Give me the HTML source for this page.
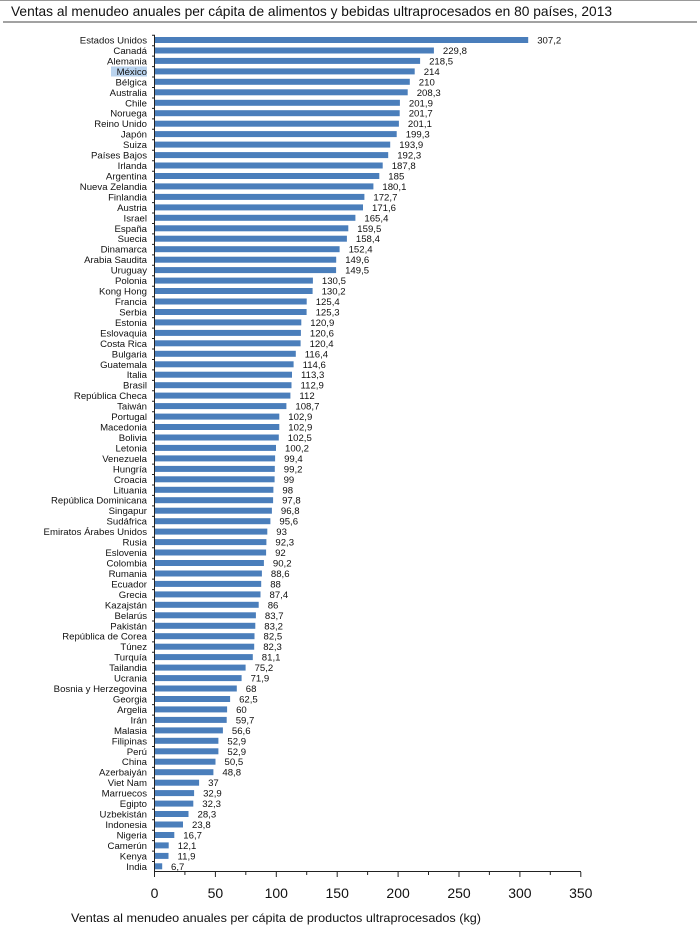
<!DOCTYPE html>
<html><head><meta charset="utf-8"><style>
html,body{margin:0;padding:0;background:#fff}
svg{display:block;font-family:"Liberation Sans",sans-serif}
.c{font-size:9.6px;text-anchor:end;fill:#111}
.v{font-size:9.6px;fill:#111}
.b{fill:#4a7ebb}
</style></head><body>
<svg width="700" height="927" viewBox="0 0 700 927" xmlns="http://www.w3.org/2000/svg">
<line x1="0" y1="0.5" x2="700" y2="0.5" stroke="#999" stroke-width="1"/>
<text x="11" y="16" font-size="14" textLength="601" lengthAdjust="spacingAndGlyphs" fill="#111">Ventas al menudeo anuales per cápita de alimentos y bebidas ultraprocesados en 80 países, 2013</text>
<line x1="3" y1="22" x2="697" y2="22" stroke="#444" stroke-width="1"/>
<rect x="111" y="66.5" width="36" height="10" fill="#b9d3ee"/>
<g id="rows">
<g transform="translate(0,40)"><text class="c" x="147" y="3.5">Estados Unidos</text><rect class="b" x="154" y="-3" width="374.2" height="6"/><text class="v" x="537.2" y="3.5">307,2</text></g>
<g transform="translate(0,50.5)"><text class="c" x="147" y="3.5">Canadá</text><rect class="b" x="154" y="-3" width="279.9" height="6"/><text class="v" x="442.9" y="3.5">229,8</text></g>
<g transform="translate(0,60.9)"><text class="c" x="147" y="3.5">Alemania</text><rect class="b" x="154" y="-3" width="266.1" height="6"/><text class="v" x="429.1" y="3.5">218,5</text></g>
<g transform="translate(0,71.4)"><text class="c" x="147" y="3.5">México</text><rect class="b" x="154" y="-3" width="260.7" height="6"/><text class="v" x="423.7" y="3.5">214</text></g>
<g transform="translate(0,81.8)"><text class="c" x="147" y="3.5">Bélgica</text><rect class="b" x="154" y="-3" width="255.8" height="6"/><text class="v" x="418.8" y="3.5">210</text></g>
<g transform="translate(0,92.3)"><text class="c" x="147" y="3.5">Australia</text><rect class="b" x="154" y="-3" width="253.7" height="6"/><text class="v" x="416.7" y="3.5">208,3</text></g>
<g transform="translate(0,102.8)"><text class="c" x="147" y="3.5">Chile</text><rect class="b" x="154" y="-3" width="245.9" height="6"/><text class="v" x="408.9" y="3.5">201,9</text></g>
<g transform="translate(0,113.2)"><text class="c" x="147" y="3.5">Noruega</text><rect class="b" x="154" y="-3" width="245.7" height="6"/><text class="v" x="408.7" y="3.5">201,7</text></g>
<g transform="translate(0,123.7)"><text class="c" x="147" y="3.5">Reino Unido</text><rect class="b" x="154" y="-3" width="244.9" height="6"/><text class="v" x="407.9" y="3.5">201,1</text></g>
<g transform="translate(0,134.1)"><text class="c" x="147" y="3.5">Japón</text><rect class="b" x="154" y="-3" width="242.7" height="6"/><text class="v" x="405.7" y="3.5">199,3</text></g>
<g transform="translate(0,144.6)"><text class="c" x="147" y="3.5">Suiza</text><rect class="b" x="154" y="-3" width="236.2" height="6"/><text class="v" x="399.2" y="3.5">193,9</text></g>
<g transform="translate(0,155.1)"><text class="c" x="147" y="3.5">Países Bajos</text><rect class="b" x="154" y="-3" width="234.2" height="6"/><text class="v" x="397.2" y="3.5">192,3</text></g>
<g transform="translate(0,165.5)"><text class="c" x="147" y="3.5">Irlanda</text><rect class="b" x="154" y="-3" width="228.7" height="6"/><text class="v" x="391.7" y="3.5">187,8</text></g>
<g transform="translate(0,176)"><text class="c" x="147" y="3.5">Argentina</text><rect class="b" x="154" y="-3" width="225.3" height="6"/><text class="v" x="388.3" y="3.5">185</text></g>
<g transform="translate(0,186.4)"><text class="c" x="147" y="3.5">Nueva Zelandia</text><rect class="b" x="154" y="-3" width="219.4" height="6"/><text class="v" x="382.4" y="3.5">180,1</text></g>
<g transform="translate(0,196.9)"><text class="c" x="147" y="3.5">Finlandia</text><rect class="b" x="154" y="-3" width="210.4" height="6"/><text class="v" x="373.4" y="3.5">172,7</text></g>
<g transform="translate(0,207.4)"><text class="c" x="147" y="3.5">Austria</text><rect class="b" x="154" y="-3" width="209" height="6"/><text class="v" x="372" y="3.5">171,6</text></g>
<g transform="translate(0,217.8)"><text class="c" x="147" y="3.5">Israel</text><rect class="b" x="154" y="-3" width="201.4" height="6"/><text class="v" x="364.4" y="3.5">165,4</text></g>
<g transform="translate(0,228.3)"><text class="c" x="147" y="3.5">España</text><rect class="b" x="154" y="-3" width="194.3" height="6"/><text class="v" x="357.3" y="3.5">159,5</text></g>
<g transform="translate(0,238.7)"><text class="c" x="147" y="3.5">Suecia</text><rect class="b" x="154" y="-3" width="192.9" height="6"/><text class="v" x="355.9" y="3.5">158,4</text></g>
<g transform="translate(0,249.2)"><text class="c" x="147" y="3.5">Dinamarca</text><rect class="b" x="154" y="-3" width="185.6" height="6"/><text class="v" x="348.6" y="3.5">152,4</text></g>
<g transform="translate(0,259.7)"><text class="c" x="147" y="3.5">Arabia Saudita</text><rect class="b" x="154" y="-3" width="182.2" height="6"/><text class="v" x="345.2" y="3.5">149,6</text></g>
<g transform="translate(0,270.1)"><text class="c" x="147" y="3.5">Uruguay</text><rect class="b" x="154" y="-3" width="182.1" height="6"/><text class="v" x="345.1" y="3.5">149,5</text></g>
<g transform="translate(0,280.6)"><text class="c" x="147" y="3.5">Polonia</text><rect class="b" x="154" y="-3" width="158.9" height="6"/><text class="v" x="321.9" y="3.5">130,5</text></g>
<g transform="translate(0,291)"><text class="c" x="147" y="3.5">Kong Hong</text><rect class="b" x="154" y="-3" width="158.6" height="6"/><text class="v" x="321.6" y="3.5">130,2</text></g>
<g transform="translate(0,301.5)"><text class="c" x="147" y="3.5">Francia</text><rect class="b" x="154" y="-3" width="152.7" height="6"/><text class="v" x="315.7" y="3.5">125,4</text></g>
<g transform="translate(0,312)"><text class="c" x="147" y="3.5">Serbia</text><rect class="b" x="154" y="-3" width="152.6" height="6"/><text class="v" x="315.6" y="3.5">125,3</text></g>
<g transform="translate(0,322.4)"><text class="c" x="147" y="3.5">Estonia</text><rect class="b" x="154" y="-3" width="147.3" height="6"/><text class="v" x="310.3" y="3.5">120,9</text></g>
<g transform="translate(0,332.9)"><text class="c" x="147" y="3.5">Eslovaquia</text><rect class="b" x="154" y="-3" width="146.9" height="6"/><text class="v" x="309.9" y="3.5">120,6</text></g>
<g transform="translate(0,343.3)"><text class="c" x="147" y="3.5">Costa Rica</text><rect class="b" x="154" y="-3" width="146.6" height="6"/><text class="v" x="309.6" y="3.5">120,4</text></g>
<g transform="translate(0,353.8)"><text class="c" x="147" y="3.5">Bulgaria</text><rect class="b" x="154" y="-3" width="141.8" height="6"/><text class="v" x="304.8" y="3.5">116,4</text></g>
<g transform="translate(0,364.3)"><text class="c" x="147" y="3.5">Guatemala</text><rect class="b" x="154" y="-3" width="139.6" height="6"/><text class="v" x="302.6" y="3.5">114,6</text></g>
<g transform="translate(0,374.7)"><text class="c" x="147" y="3.5">Italia</text><rect class="b" x="154" y="-3" width="138" height="6"/><text class="v" x="301" y="3.5">113,3</text></g>
<g transform="translate(0,385.2)"><text class="c" x="147" y="3.5">Brasil</text><rect class="b" x="154" y="-3" width="137.5" height="6"/><text class="v" x="300.5" y="3.5">112,9</text></g>
<g transform="translate(0,395.6)"><text class="c" x="147" y="3.5">República Checa</text><rect class="b" x="154" y="-3" width="136.4" height="6"/><text class="v" x="299.4" y="3.5">112</text></g>
<g transform="translate(0,406.1)"><text class="c" x="147" y="3.5">Taiwán</text><rect class="b" x="154" y="-3" width="132.4" height="6"/><text class="v" x="295.4" y="3.5">108,7</text></g>
<g transform="translate(0,416.6)"><text class="c" x="147" y="3.5">Portugal</text><rect class="b" x="154" y="-3" width="125.3" height="6"/><text class="v" x="288.3" y="3.5">102,9</text></g>
<g transform="translate(0,427)"><text class="c" x="147" y="3.5">Macedonia</text><rect class="b" x="154" y="-3" width="125.3" height="6"/><text class="v" x="288.3" y="3.5">102,9</text></g>
<g transform="translate(0,437.5)"><text class="c" x="147" y="3.5">Bolivia</text><rect class="b" x="154" y="-3" width="124.8" height="6"/><text class="v" x="287.8" y="3.5">102,5</text></g>
<g transform="translate(0,447.9)"><text class="c" x="147" y="3.5">Letonia</text><rect class="b" x="154" y="-3" width="122" height="6"/><text class="v" x="285" y="3.5">100,2</text></g>
<g transform="translate(0,458.4)"><text class="c" x="147" y="3.5">Venezuela</text><rect class="b" x="154" y="-3" width="121.1" height="6"/><text class="v" x="284.1" y="3.5">99,4</text></g>
<g transform="translate(0,468.9)"><text class="c" x="147" y="3.5">Hungría</text><rect class="b" x="154" y="-3" width="120.8" height="6"/><text class="v" x="283.8" y="3.5">99,2</text></g>
<g transform="translate(0,479.3)"><text class="c" x="147" y="3.5">Croacia</text><rect class="b" x="154" y="-3" width="120.6" height="6"/><text class="v" x="283.6" y="3.5">99</text></g>
<g transform="translate(0,489.8)"><text class="c" x="147" y="3.5">Lituania</text><rect class="b" x="154" y="-3" width="119.4" height="6"/><text class="v" x="282.4" y="3.5">98</text></g>
<g transform="translate(0,500.2)"><text class="c" x="147" y="3.5">República Dominicana</text><rect class="b" x="154" y="-3" width="119.1" height="6"/><text class="v" x="282.1" y="3.5">97,8</text></g>
<g transform="translate(0,510.7)"><text class="c" x="147" y="3.5">Singapur</text><rect class="b" x="154" y="-3" width="117.9" height="6"/><text class="v" x="280.9" y="3.5">96,8</text></g>
<g transform="translate(0,521.2)"><text class="c" x="147" y="3.5">Sudáfrica</text><rect class="b" x="154" y="-3" width="116.4" height="6"/><text class="v" x="279.4" y="3.5">95,6</text></g>
<g transform="translate(0,531.6)"><text class="c" x="147" y="3.5">Emiratos Árabes Unidos</text><rect class="b" x="154" y="-3" width="113.3" height="6"/><text class="v" x="276.3" y="3.5">93</text></g>
<g transform="translate(0,542.1)"><text class="c" x="147" y="3.5">Rusia</text><rect class="b" x="154" y="-3" width="112.4" height="6"/><text class="v" x="275.4" y="3.5">92,3</text></g>
<g transform="translate(0,552.5)"><text class="c" x="147" y="3.5">Eslovenia</text><rect class="b" x="154" y="-3" width="112.1" height="6"/><text class="v" x="275.1" y="3.5">92</text></g>
<g transform="translate(0,563)"><text class="c" x="147" y="3.5">Colombia</text><rect class="b" x="154" y="-3" width="109.9" height="6"/><text class="v" x="272.9" y="3.5">90,2</text></g>
<g transform="translate(0,573.5)"><text class="c" x="147" y="3.5">Rumania</text><rect class="b" x="154" y="-3" width="107.9" height="6"/><text class="v" x="270.9" y="3.5">88,6</text></g>
<g transform="translate(0,583.9)"><text class="c" x="147" y="3.5">Ecuador</text><rect class="b" x="154" y="-3" width="107.2" height="6"/><text class="v" x="270.2" y="3.5">88</text></g>
<g transform="translate(0,594.4)"><text class="c" x="147" y="3.5">Grecia</text><rect class="b" x="154" y="-3" width="106.5" height="6"/><text class="v" x="269.5" y="3.5">87,4</text></g>
<g transform="translate(0,604.8)"><text class="c" x="147" y="3.5">Kazajstán</text><rect class="b" x="154" y="-3" width="104.7" height="6"/><text class="v" x="267.7" y="3.5">86</text></g>
<g transform="translate(0,615.3)"><text class="c" x="147" y="3.5">Belarús</text><rect class="b" x="154" y="-3" width="101.9" height="6"/><text class="v" x="264.9" y="3.5">83,7</text></g>
<g transform="translate(0,625.8)"><text class="c" x="147" y="3.5">Pakistán</text><rect class="b" x="154" y="-3" width="101.3" height="6"/><text class="v" x="264.3" y="3.5">83,2</text></g>
<g transform="translate(0,636.2)"><text class="c" x="147" y="3.5">República de Corea</text><rect class="b" x="154" y="-3" width="100.5" height="6"/><text class="v" x="263.5" y="3.5">82,5</text></g>
<g transform="translate(0,646.7)"><text class="c" x="147" y="3.5">Túnez</text><rect class="b" x="154" y="-3" width="100.2" height="6"/><text class="v" x="263.2" y="3.5">82,3</text></g>
<g transform="translate(0,657.1)"><text class="c" x="147" y="3.5">Turquía</text><rect class="b" x="154" y="-3" width="98.8" height="6"/><text class="v" x="261.8" y="3.5">81,1</text></g>
<g transform="translate(0,667.6)"><text class="c" x="147" y="3.5">Tailandia</text><rect class="b" x="154" y="-3" width="91.6" height="6"/><text class="v" x="254.6" y="3.5">75,2</text></g>
<g transform="translate(0,678.1)"><text class="c" x="147" y="3.5">Ucrania</text><rect class="b" x="154" y="-3" width="87.6" height="6"/><text class="v" x="250.6" y="3.5">71,9</text></g>
<g transform="translate(0,688.5)"><text class="c" x="147" y="3.5">Bosnia y Herzegovina</text><rect class="b" x="154" y="-3" width="82.8" height="6"/><text class="v" x="245.8" y="3.5">68</text></g>
<g transform="translate(0,699)"><text class="c" x="147" y="3.5">Georgia</text><rect class="b" x="154" y="-3" width="76.1" height="6"/><text class="v" x="239.1" y="3.5">62,5</text></g>
<g transform="translate(0,709.4)"><text class="c" x="147" y="3.5">Argelia</text><rect class="b" x="154" y="-3" width="73.1" height="6"/><text class="v" x="236.1" y="3.5">60</text></g>
<g transform="translate(0,719.9)"><text class="c" x="147" y="3.5">Irán</text><rect class="b" x="154" y="-3" width="72.7" height="6"/><text class="v" x="235.7" y="3.5">59,7</text></g>
<g transform="translate(0,730.4)"><text class="c" x="147" y="3.5">Malasia</text><rect class="b" x="154" y="-3" width="68.9" height="6"/><text class="v" x="231.9" y="3.5">56,6</text></g>
<g transform="translate(0,740.8)"><text class="c" x="147" y="3.5">Filipinas</text><rect class="b" x="154" y="-3" width="64.4" height="6"/><text class="v" x="227.4" y="3.5">52,9</text></g>
<g transform="translate(0,751.3)"><text class="c" x="147" y="3.5">Perú</text><rect class="b" x="154" y="-3" width="64.4" height="6"/><text class="v" x="227.4" y="3.5">52,9</text></g>
<g transform="translate(0,761.7)"><text class="c" x="147" y="3.5">China</text><rect class="b" x="154" y="-3" width="61.5" height="6"/><text class="v" x="224.5" y="3.5">50,5</text></g>
<g transform="translate(0,772.2)"><text class="c" x="147" y="3.5">Azerbaiyán</text><rect class="b" x="154" y="-3" width="59.4" height="6"/><text class="v" x="222.4" y="3.5">48,8</text></g>
<g transform="translate(0,782.7)"><text class="c" x="147" y="3.5">Viet Nam</text><rect class="b" x="154" y="-3" width="45.1" height="6"/><text class="v" x="208.1" y="3.5">37</text></g>
<g transform="translate(0,793.1)"><text class="c" x="147" y="3.5">Marruecos</text><rect class="b" x="154" y="-3" width="40.1" height="6"/><text class="v" x="203.1" y="3.5">32,9</text></g>
<g transform="translate(0,803.6)"><text class="c" x="147" y="3.5">Egipto</text><rect class="b" x="154" y="-3" width="39.3" height="6"/><text class="v" x="202.3" y="3.5">32,3</text></g>
<g transform="translate(0,814)"><text class="c" x="147" y="3.5">Uzbekistán</text><rect class="b" x="154" y="-3" width="34.5" height="6"/><text class="v" x="197.5" y="3.5">28,3</text></g>
<g transform="translate(0,824.5)"><text class="c" x="147" y="3.5">Indonesia</text><rect class="b" x="154" y="-3" width="29" height="6"/><text class="v" x="192" y="3.5">23,8</text></g>
<g transform="translate(0,835)"><text class="c" x="147" y="3.5">Nigeria</text><rect class="b" x="154" y="-3" width="20.3" height="6"/><text class="v" x="183.3" y="3.5">16,7</text></g>
<g transform="translate(0,845.4)"><text class="c" x="147" y="3.5">Camerún</text><rect class="b" x="154" y="-3" width="14.7" height="6"/><text class="v" x="177.7" y="3.5">12,1</text></g>
<g transform="translate(0,855.9)"><text class="c" x="147" y="3.5">Kenya</text><rect class="b" x="154" y="-3" width="14.5" height="6"/><text class="v" x="177.5" y="3.5">11,9</text></g>
<g transform="translate(0,866.3)"><text class="c" x="147" y="3.5">India</text><rect class="b" x="154" y="-3" width="8.2" height="6"/><text class="v" x="171" y="3.5">6,7</text></g>
</g>
<!-- axes -->
<g stroke="#222" stroke-width="1">
<line x1="154.5" y1="35" x2="154.5" y2="876"/>
<line x1="154" y1="871.5" x2="581" y2="871.5"/>
</g>
<g stroke="#222" stroke-width="1" id="ticks">
<path d="M152 35.2h3M152 45.7h3M152 56.1h3M152 66.6h3M152 77h3M152 87.5h3M152 98h3M152 108.4h3M152 118.9h3M152 129.3h3M152 139.8h3M152 150.3h3M152 160.7h3M152 171.2h3M152 181.6h3M152 192.1h3M152 202.6h3M152 213h3M152 223.5h3M152 233.9h3M152 244.4h3M152 254.9h3M152 265.3h3M152 275.8h3M152 286.2h3M152 296.7h3M152 307.2h3M152 317.6h3M152 328.1h3M152 338.5h3M152 349h3M152 359.5h3M152 369.9h3M152 380.4h3M152 390.8h3M152 401.3h3M152 411.8h3M152 422.2h3M152 432.7h3M152 443.1h3M152 453.6h3M152 464.1h3M152 474.5h3M152 485h3M152 495.4h3M152 505.9h3M152 516.4h3M152 526.8h3M152 537.3h3M152 547.7h3M152 558.2h3M152 568.7h3M152 579.1h3M152 589.6h3M152 600h3M152 610.5h3M152 621h3M152 631.4h3M152 641.9h3M152 652.3h3M152 662.8h3M152 673.3h3M152 683.7h3M152 694.2h3M152 704.6h3M152 715.1h3M152 725.6h3M152 736h3M152 746.5h3M152 756.9h3M152 767.4h3M152 777.9h3M152 788.3h3M152 798.8h3M152 809.2h3M152 819.7h3M152 830.2h3M152 840.6h3M152 851.1h3M152 861.5h3"/>
<path d="M154.5 872v5M215.4 872v5M276.3 872v5M337.2 872v5M398.1 872v5M459 872v5M519.9 872v5M580.8 872v5"/>
<path d="M184.9 872v3M245.8 872v3M306.7 872v3M367.6 872v3M428.5 872v3M489.4 872v3M550.3 872v3"/>
</g>
<g font-size="14" text-anchor="middle" fill="#111">
<text x="154.5" y="898">0</text><text x="215.4" y="898">50</text><text x="276.3" y="898">100</text><text x="337.2" y="898">150</text><text x="398.1" y="898">200</text><text x="459" y="898">250</text><text x="519.9" y="898">300</text><text x="580.8" y="898">350</text>
</g>
<text x="71" y="922" font-size="12" textLength="410" lengthAdjust="spacingAndGlyphs" fill="#111">Ventas al menudeo  anuales per cápita de productos ultraprocesados (kg)</text>
</svg>
</body></html>
